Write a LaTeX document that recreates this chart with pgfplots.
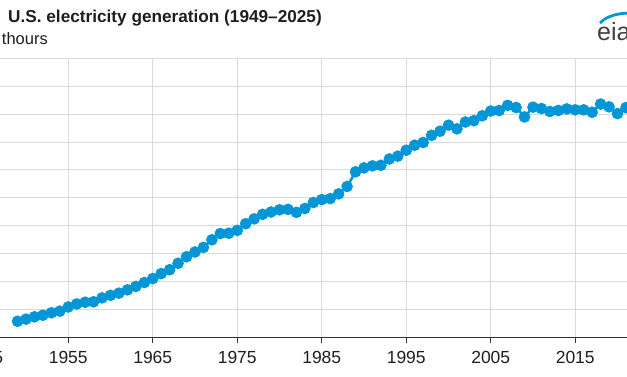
\documentclass[border=0pt]{standalone}
\usepackage{pgfplots}
\pgfplotsset{compat=1.18}
\usepackage{fontspec}
\setmainfont{Liberation Sans}
\definecolor{eiablue}{RGB}{0,150,215}
\definecolor{gridgray}{RGB}{217,217,217}
\definecolor{textdark}{RGB}{30,30,30}
\pgfplotstableread{
year value
1949 291.1
1950 329.1
1951 370.7
1952 399.2
1953 442.7
1954 471.7
1955 547.0
1956 600.7
1957 631.5
1958 640.5
1959 709.4
1960 755.0
1961 794.4
1962 852.7
1963 914.6
1964 983.9
1965 1055.3
1966 1144.5
1967 1214.4
1968 1329.4
1969 1445.5
1970 1531.6
1971 1613.9
1972 1750.0
1973 1861.4
1974 1867.1
1975 1918.3
1976 2037.6
1977 2124.3
1978 2206.3
1979 2247.4
1980 2286.4
1981 2294.8
1982 2241.2
1983 2310.3
1984 2416.3
1985 2469.8
1986 2487.3
1987 2572.1
1988 2704.3
1989 2967.1
1990 3037.8
1991 3073.8
1992 3083.9
1993 3197.2
1994 3247.5
1995 3353.5
1996 3444.2
1997 3492.2
1998 3620.3
1999 3694.8
2000 3802.1
2001 3736.6
2002 3858.5
2003 3883.2
2004 3970.6
2005 4055.4
2006 4064.7
2007 4156.7
2008 4119.4
2009 3950.3
2010 4125.1
2011 4100.1
2012 4048.0
2013 4066.0
2014 4093.6
2015 4077.6
2016 4076.7
2017 4034.3
2018 4180.6
2019 4130.6
2020 4009.5
2021 4115.6
2022 4243.1
2023 4178.2
2024 4304.0
2025 4400.0
}\gendata
\begin{document}
\begin{tikzpicture}[x=1pt,y=1pt]
\useasboundingbox (0,0) rectangle (627,376);
\clip (0,0) rectangle (627,376);
\begin{axis}[
  at={(-58.5pt,38.5pt)}, anchor=south west,
  scale only axis, width=760.5pt, height=279.2pt,
  xmin=1940, xmax=2030, ymin=0, ymax=5000,
  xtick={1945,1955,...,2025},
  ytick={0,500,...,5000}, yticklabels={},
  grid=major, major grid style={gridgray, line width=1pt},
  separate axis lines,
  axis x line*=bottom, axis y line*=left,
  x axis line style={draw=black!80, line width=1.5pt, -},
  y axis line style={draw=none},
  ytick style={draw=none},
  tick align=outside, major tick length=5pt,
  xtick style={draw=black!80, line width=1pt},
  /pgf/number format/assume math mode=true,
  xticklabel style={font=\fontsize{17.5}{17.5}\selectfont, text=textdark, yshift=-5pt, /pgf/number format/1000 sep={}},
]
\addplot[eiablue, line width=2.5pt, mark=*, mark size=4.5pt,
  mark options={draw=none, fill=eiablue}] table[x=year, y=value] {\gendata};
\end{axis}
\node[anchor=base west, inner sep=0, font=\bfseries\fontsize{17.2}{17.2}\selectfont, text=textdark] at (8,354) {U.S. electricity generation (1949–2025)};
\node[anchor=base east, inner sep=0, font=\fontsize{16.5}{16.5}\selectfont, text=textdark] at (48,331) {thours};
\node[anchor=base west, inner sep=0, font=\fontsize{25}{25}\selectfont, text=black!75] at (597,336) {eia};
\draw[eiablue, line width=2.8pt] (600,353) .. controls (607,360) and (617,363) .. (632,363);
\end{tikzpicture}
\end{document}
